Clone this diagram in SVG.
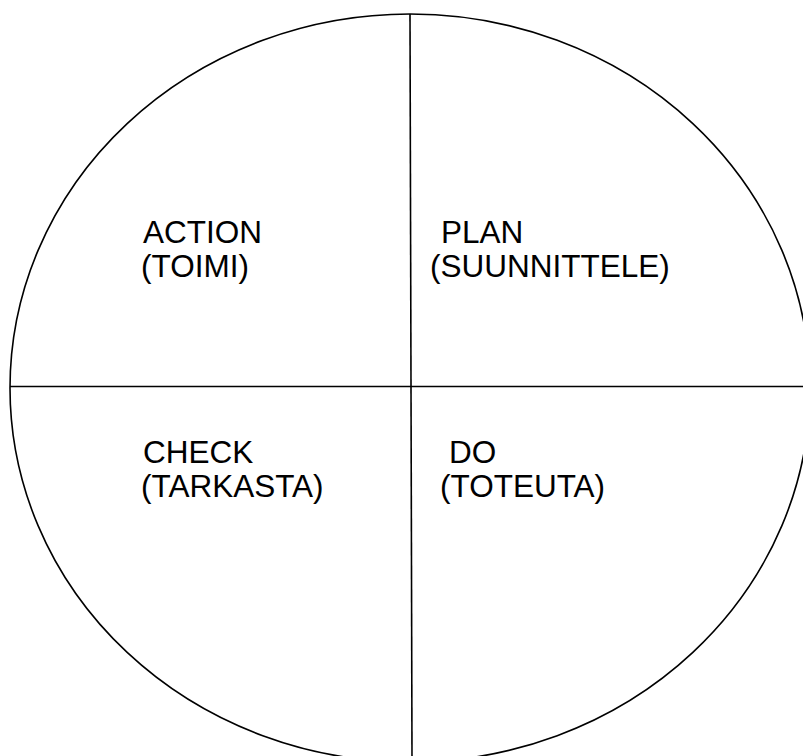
<svg xmlns="http://www.w3.org/2000/svg" width="803" height="756" viewBox="0 0 803 756">
<style>
.ln{fill:none;stroke:#000;stroke-width:1.6}
.t{font-family:"Liberation Sans",Arial,sans-serif;font-size:31.5px;fill:#000}
</style>
<rect width="803" height="756" fill="#fff"/>
<g id="circle"><ellipse class="ln" cx="410" cy="388" rx="400" ry="374"/></g>
<g id="connectors">
<line class="ln" x1="410" y1="14" x2="412" y2="756"/>
<line class="ln" x1="10" y1="386.5" x2="803" y2="386.5"/>
</g>
<g id="action"><text class="t" x="143" y="243">ACTION</text><text class="t" x="141" y="277">(TOIMI)</text></g>
<g id="plan"><text class="t" x="441" y="243">PLAN</text><text class="t" x="430" y="277">(SUUNNITTELE)</text></g>
<g id="check"><text class="t" x="143" y="463">CHECK</text><text class="t" x="141" y="497">(TARKASTA)</text></g>
<g id="do"><text class="t" x="449" y="463">DO</text><text class="t" x="440" y="497">(TOTEUTA)</text></g>
</svg>
